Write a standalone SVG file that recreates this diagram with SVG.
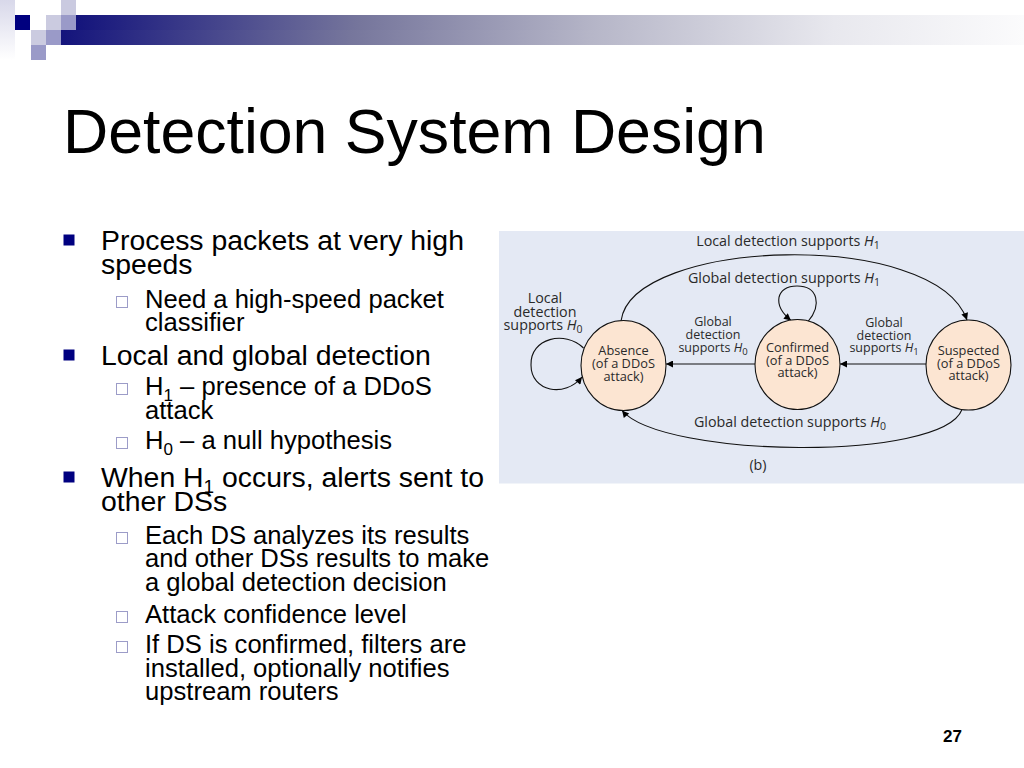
<svg xmlns="http://www.w3.org/2000/svg" width="1024" height="768" viewBox="0 0 1024 768">
<defs>
<linearGradient id="bar" x1="0" y1="0" x2="1" y2="0">
<stop offset="0" stop-color="#14147c"/>
<stop offset="0.3" stop-color="#76769c"/>
<stop offset="0.55" stop-color="#b6b6c8"/>
<stop offset="0.8" stop-color="#e8e8ee"/>
<stop offset="1" stop-color="#fbfbfc"/>
</linearGradient>
<linearGradient id="edge" x1="0" y1="0" x2="0" y2="1">
<stop offset="0" stop-color="#d8d8ea"/>
<stop offset="1" stop-color="#ffffff"/>
</linearGradient>
<marker id="arr" viewBox="0 0 10 10" refX="10" refY="5" markerWidth="9" markerHeight="7" markerUnits="userSpaceOnUse" orient="auto">
<path d="M0,0 L10,5 L0,10 z" fill="#000"/>
</marker>
<style>
.title{font-family:"Liberation Sans",Arial,sans-serif;font-size:62.6px;fill:#000}
.l1{font-family:"Liberation Sans",Arial,sans-serif;font-size:28.4px;fill:#000}
.l2{font-family:"Liberation Sans",Arial,sans-serif;font-size:25.6px;fill:#000}
.b1{fill:#000080}
.b2{fill:none;stroke:#9c9cc8;stroke-width:1}
.node{fill:#fce5d2;stroke:#111;stroke-width:1.1}
.nt{font-family:"Open Sans","Noto Sans",sans-serif;font-size:12.8px;fill:#2a2a2a;text-anchor:middle}
.lb{font-family:"Open Sans","Noto Sans",sans-serif;font-size:14.3px;fill:#2a2a2a;text-anchor:middle}
.lm{font-family:"Open Sans","Noto Sans",sans-serif;font-size:12.5px;fill:#2a2a2a;text-anchor:middle}
.edge{fill:none;stroke:#111;stroke-width:1.1}
.it{font-style:italic}
</style>
</defs>
<rect width="1024" height="768" fill="#fff"/>
<g id="header">
<rect x="0" y="0" width="15" height="60" fill="url(#edge)"/>
<rect x="76" y="15" width="948" height="15" fill="url(#bar)"/>
<rect x="61" y="30" width="963" height="15" fill="url(#bar)"/>
<rect x="61" y="0" width="15" height="15" fill="#cacae0"/>
<rect x="15" y="15" width="15" height="15" fill="#00007f"/>
<rect x="46" y="15" width="15" height="15" fill="#cbcbe0"/>
<rect x="61" y="15" width="15" height="15" fill="#9a9ac8"/>
<rect x="31" y="30" width="15" height="15" fill="#cbcbe0"/>
<rect x="46" y="30" width="15" height="15" fill="#9a9ac8"/>
<rect x="31" y="45" width="15" height="15" fill="#9a9ac8"/>
</g>
<text class="title" x="63" y="152.5">Detection System Design</text>
<g id="bullets">
<rect class="b1" x="63.5" y="234.5" width="11" height="11"/>
<text class="l1" x="101" y="250">Process packets at very high</text>
<text class="l1" x="101" y="274">speeds</text>
<rect class="b2" x="116.5" y="296.5" width="11" height="11"/>
<text class="l2" x="145" y="308">Need a high-speed packet</text>
<text class="l2" x="145" y="331">classifier</text>
<rect class="b1" x="63.5" y="349.5" width="11" height="11"/>
<text class="l1" x="101" y="365">Local and global detection</text>
<rect class="b2" x="116.5" y="383.5" width="11" height="11"/>
<text class="l2" x="145" y="395">H<tspan font-size="17" dy="6">1</tspan><tspan dy="-6"> – presence of a DDoS</tspan></text>
<text class="l2" x="145" y="419">attack</text>
<rect class="b2" x="116.5" y="437.5" width="11" height="11"/>
<text class="l2" x="145" y="449">H<tspan font-size="17" dy="6">0</tspan><tspan dy="-6"> – a null hypothesis</tspan></text>
<rect class="b1" x="63.5" y="471.5" width="11" height="11"/>
<text class="l1" x="101" y="487">When H<tspan font-size="19" dy="6">1</tspan><tspan dy="-6"> occurs, alerts sent to</tspan></text>
<text class="l1" x="101" y="511">other DSs</text>
<rect class="b2" x="116.5" y="532.5" width="11" height="11"/>
<text class="l2" x="145" y="544">Each DS analyzes its results</text>
<text class="l2" x="145" y="567">and other DSs results to make</text>
<text class="l2" x="145" y="591">a global detection decision</text>
<rect class="b2" x="116.5" y="611.5" width="11" height="11"/>
<text class="l2" x="145" y="623">Attack confidence level</text>
<rect class="b2" x="116.5" y="641.5" width="11" height="11"/>
<text class="l2" x="145" y="653">If DS is confirmed, filters are</text>
<text class="l2" x="145" y="677">installed, optionally notifies</text>
<text class="l2" x="145" y="700">upstream routers</text>
</g>
<rect id="panel" x="499" y="231" width="525" height="252.5" fill="#e4e9f4"/>
<g id="connectors">
<path class="edge" d="M583.5,348 C565,330 530,338 531,365 C531,392 565,398 582,377" marker-end="url(#arr)"/>
<path class="edge" d="M808,321.5 C822,305 818,286 797,286 C776,286 772,305 791,320.5" marker-end="url(#arr)"/>
<path class="edge" d="M621,321 C632,238 935,228 967,320" marker-end="url(#arr)"/>
<path class="edge" d="M962,409.5 C942,462 662,458 622,410.5" marker-end="url(#arr)"/>
<path class="edge" d="M755,364 L666,364" marker-end="url(#arr)"/>
<path class="edge" d="M926,364 L840,364" marker-end="url(#arr)"/>
<text class="lb" x="788" y="246">Local detection supports <tspan class="it">H</tspan><tspan font-size="10.5" dy="3">1</tspan></text>
<text class="lb" x="784" y="283">Global detection supports <tspan class="it">H</tspan><tspan font-size="10.5" dy="3">1</tspan></text>
<text class="lb" x="790" y="427">Global detection supports <tspan class="it">H</tspan><tspan font-size="10.5" dy="3">0</tspan></text>
<text class="lb" x="545" y="303">Local</text>
<text class="lb" x="545" y="316.5">detection</text>
<text class="lb" x="543" y="330">supports <tspan class="it">H</tspan><tspan font-size="10.5" dy="3">0</tspan></text>
<text class="lm" x="713" y="325.5">Global</text>
<text class="lm" x="713" y="339">detection</text>
<text class="lm" x="713" y="352">supports <tspan class="it">H</tspan><tspan font-size="9.5" dy="3">0</tspan></text>
<text class="lm" x="884" y="326.5">Global</text>
<text class="lm" x="884" y="339.5">detection</text>
<text class="lm" x="884" y="352">supports <tspan class="it">H</tspan><tspan font-size="9.5" dy="3">1</tspan></text>
<text class="lb" x="758" y="470">(b)</text>
</g>
<g id="absence">
<ellipse class="node" cx="623.5" cy="365.5" rx="42.5" ry="45"/>
<text class="nt" x="623.5" y="355">Absence</text>
<text class="nt" x="623.5" y="368">(of a DDoS</text>
<text class="nt" x="623.5" y="381">attack)</text>
</g>
<g id="confirmed">
<ellipse class="node" cx="797.5" cy="364.5" rx="42.5" ry="45"/>
<text class="nt" x="797.5" y="352">Confirmed</text>
<text class="nt" x="797.5" y="364.5">(of a DDoS</text>
<text class="nt" x="797.5" y="377">attack)</text>
</g>
<g id="suspected">
<ellipse class="node" cx="968.5" cy="365" rx="42.5" ry="45"/>
<text class="nt" x="968.5" y="355">Suspected</text>
<text class="nt" x="968.5" y="367.5">(of a DDoS</text>
<text class="nt" x="968.5" y="380">attack)</text>
</g>
<text x="962" y="742" font-family="'Liberation Sans',Arial,sans-serif" font-size="17" font-weight="bold" text-anchor="end" fill="#000">27</text>
</svg>
